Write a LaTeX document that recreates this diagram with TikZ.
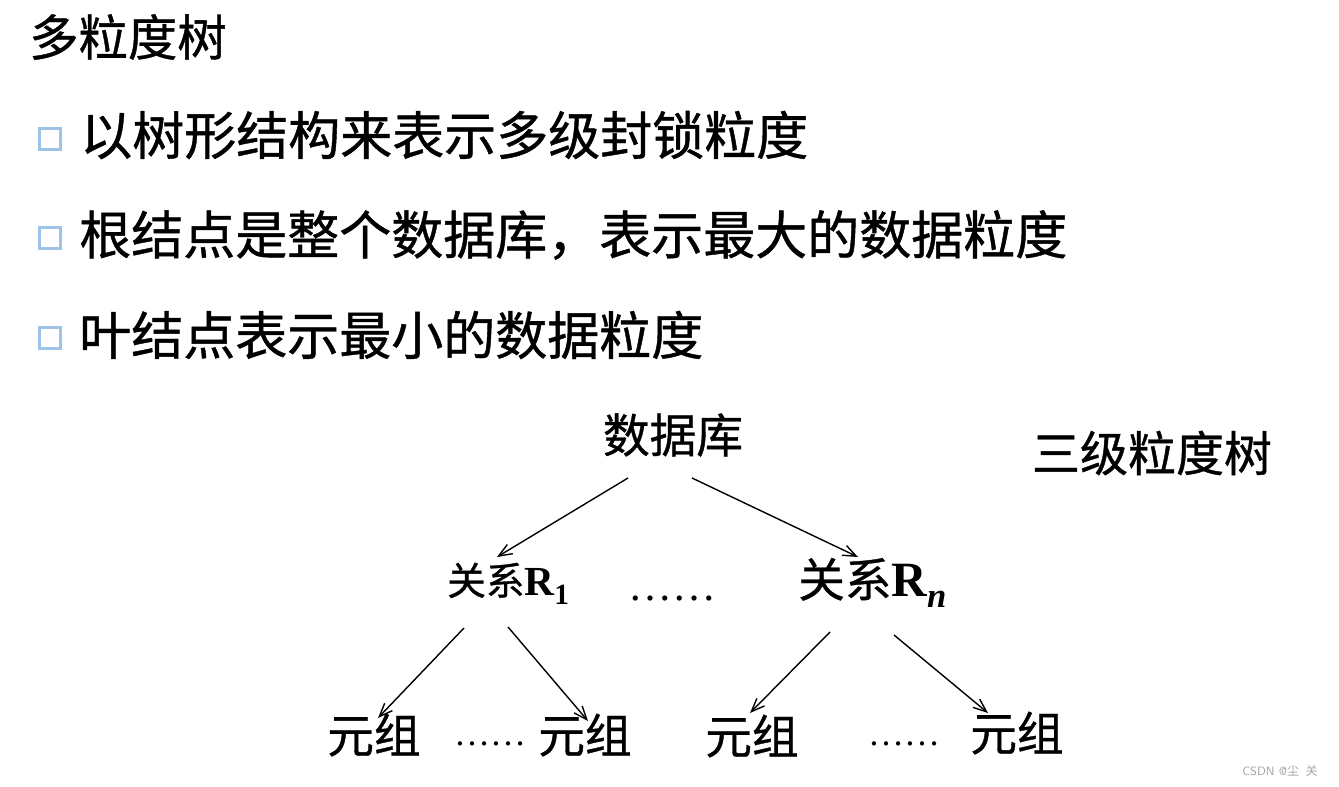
\documentclass[tikz,border=0pt]{standalone}
\usepackage{fontspec}
\setmainfont{Liberation Serif}
\newfontfamily\cjk[FakeBold=0.8]{Noto Sans CJK SC}
\newfontfamily\cjkthin{Noto Sans CJK SC}
\usetikzlibrary{arrows.meta}
\definecolor{boxblue}{HTML}{9DC3E6}
\begin{document}
\begin{tikzpicture}[x=0.75pt,y=-0.75pt,
  txt/.style={inner sep=0pt,font=\cjk},
  big/.style={txt,font=\cjk\fontsize{39}{39}\selectfont},
  treetxt/.style={txt,font=\cjk\fontsize{35}{35}\selectfont},
  bulletbox/.style={draw=boxblue,line width=2.2pt,minimum width=16pt,minimum height=16pt,inner sep=0pt},
  edge/.style={line width=1.05pt,-{Straight Barb[length=10pt,width=8pt]}},
  dots/.style={inner sep=0pt,font=\rmfamily\fontsize{33}{33}\selectfont}]
\useasboundingbox (0,0) rectangle (1339,787);
\fill[white] (0,0) rectangle (1339,787);
% title
\node[txt,anchor=west,font=\cjk\fontsize{37}{37}\selectfont] (title) at (29,37) {多粒度树};
% bullets
\node[bulletbox] (b1) at (50,139) {};
\node[big,anchor=west] (t1) at (80,135) {以树形结构来表示多级封锁粒度};
\node[bulletbox] (b2) at (50,238) {};
\node[big,anchor=west] (t2) at (79,235) {根结点是整个数据库，表示最大的数据粒度};
\node[bulletbox] (b3) at (50,338) {};
\node[big,anchor=west] (t3) at (79,335) {叶结点表示最小的数据粒度};
% tree
\node[treetxt] (db) at (673,435) {数据库};
\node[txt,font=\cjk\fontsize{36}{36}\selectfont] (label) at (1152,453) {三级粒度树};
\node[txt,anchor=base west] (r1) at (447,595) {{\cjk\fontsize{29}{29}\selectfont 关系}{\rmfamily\bfseries\fontsize{31}{31}\selectfont R\raisebox{-7pt}{\fontsize{22}{22}\selectfont 1}}};
\node[dots,anchor=base] (d1) at (672,600) {……};
\node[txt,anchor=base west] (rn) at (798,597) {{\cjk\fontsize{35}{35}\selectfont 关系}{\rmfamily\bfseries\fontsize{37}{37}\selectfont R\raisebox{-8pt}{\fontsize{26}{26}\selectfont\itshape n}}};
\node[treetxt] (e1) at (374,735) {元组};
\node[dots,anchor=base,font=\rmfamily\fontsize{27}{27}\selectfont] (d2) at (490,745) {……};
\node[treetxt] (e2) at (585,735) {元组};
\node[treetxt] (e3) at (752,736) {元组};
\node[dots,anchor=base,font=\rmfamily\fontsize{27}{27}\selectfont] (d3) at (904,745) {……};
\node[treetxt] (e4) at (1017,733) {元组};
% connector endpoints
\coordinate (s1) at (628,478); \coordinate (t1e) at (497,557);
\coordinate (s2) at (692,478); \coordinate (t2e) at (858,557);
\coordinate (s3) at (464,628); \coordinate (t3e) at (378,718);
\coordinate (s4) at (508,627); \coordinate (t4e) at (588,721);
\coordinate (s5) at (830,632); \coordinate (t5e) at (750,713);
\coordinate (s6) at (894,635); \coordinate (t6e) at (988,713);
\draw[edge] (s1) -- (t1e);
\draw[edge] (s2) -- (t2e);
\draw[edge] (s3) -- (t3e);
\draw[edge] (s4) -- (t4e);
\draw[edge] (s5) -- (t5e);
\draw[edge] (s6) -- (t6e);
% watermark
\node[txt,text=gray!70,font=\fontsize{9}{9}\selectfont\sffamily] (wm) at (1280,771) {CSDN @{\cjkthin 尘\hspace{5pt}关}};
\end{tikzpicture}
\end{document}
